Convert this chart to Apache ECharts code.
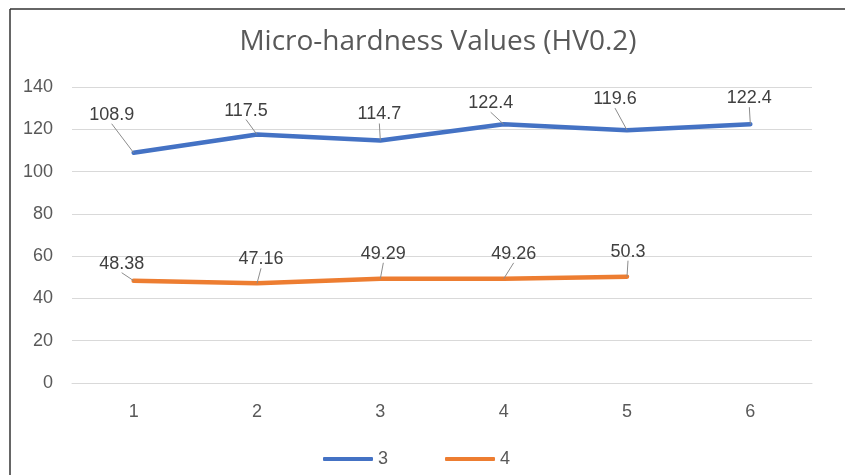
<!DOCTYPE html>
<html>
<head>
<meta charset="utf-8">
<script src="https://cdn.jsdelivr.net/npm/echarts@6/dist/echarts.min.js"></script>
<style>
html,body{margin:0;padding:0;background:#fff;}
#chart{width:845px;height:475px;}
</style>
</head>
<body>
<div id="chart"></div>
<script>
const categories = ['1', '2', '3', '4', '5', '6'];
const series3 = [108.9, 117.5, 114.7, 122.4, 119.6, 122.4];
const series4 = [48.38, 47.16, 49.29, 49.26, 50.3, null];
const seriesNames = ['3', '4'];
// label offsets relative to default 'top' position
const offsets3 = [[-22, -24], [-11, -10], [-1, -12], [-13, -7], [-12, -17], [-1, -12]];
const offsets4 = [[-12, -3], [4, -10], [3, -11], [10, -11], [1, -11], [0, 0]];

const chart = echarts.init(document.getElementById('chart'));
const font = 'Liberation Sans, Arial, sans-serif';
function mkLayout(offs) {
  return function (p) {
    const o = offs[p.dataIndex] || [0, 0];
    return { dx: o[0], dy: o[1] };
  };
}
function mkSeries(name, data, color, offs) {
  return {
    name: name, type: 'line', data: data,
    symbol: 'circle', symbolSize: 0.01, showSymbol: true,
    lineStyle: { color: color, width: 4.5, cap: 'round', join: 'round' },
    itemStyle: { color: color },
    label: { show: true, position: 'top', distance: 5, fontSize: 18, color: '#404040' },
    labelLine: { show: true, lineStyle: { color: '#8c8c8c', width: 1 } },
    labelLayout: mkLayout(offs)
  };
}
chart.setOption({
  animation: false,
  textStyle: { fontFamily: font },
  title: {
    text: 'Micro-hardness Values (HV0.2)',
    left: 433,
    textAlign: 'center',
    top: 23,
    textStyle: { fontSize: 28, fontWeight: 'normal', color: '#595959', fontFamily: 'Open Sans, sans-serif' }
  },
  graphic: [
    { type: 'line', shape: { x1: 10, y1: 9, x2: 845, y2: 9 }, style: { stroke: '#333', lineWidth: 1.5 } },
    { type: 'line', shape: { x1: 10, y1: 9, x2: 10, y2: 475 }, style: { stroke: '#333', lineWidth: 1.5 } }
  ],
  legend: {
    data: seriesNames,
    bottom: 2,
    left: 318,
    itemGap: 57,
    itemWidth: 50,
    itemHeight: 4,
    icon: 'roundRect',
    textStyle: { fontSize: 18, color: '#595959' }
  },
  grid: { left: 72, right: 33, top: 87, bottom: 92, containLabel: false },
  xAxis: {
    type: 'category',
    data: categories,
    boundaryGap: true,
    axisLine: { show: true, lineStyle: { color: '#d9d9d9' } },
    axisTick: { show: false },
    axisLabel: { fontSize: 18, color: '#595959', margin: 20 }
  },
  yAxis: {
    type: 'value',
    min: 0, max: 140, interval: 20,
    axisLine: { show: false },
    axisTick: { show: false },
    axisLabel: { fontSize: 18, color: '#595959', margin: 19 },
    splitLine: { lineStyle: { color: '#d9d9d9', width: 1.2 } }
  },
  series: [
    mkSeries(seriesNames[0], series3, '#4472C4', offsets3),
    mkSeries(seriesNames[1], series4, '#ED7D31', offsets4)
  ]
});
</script>
</body>
</html>
